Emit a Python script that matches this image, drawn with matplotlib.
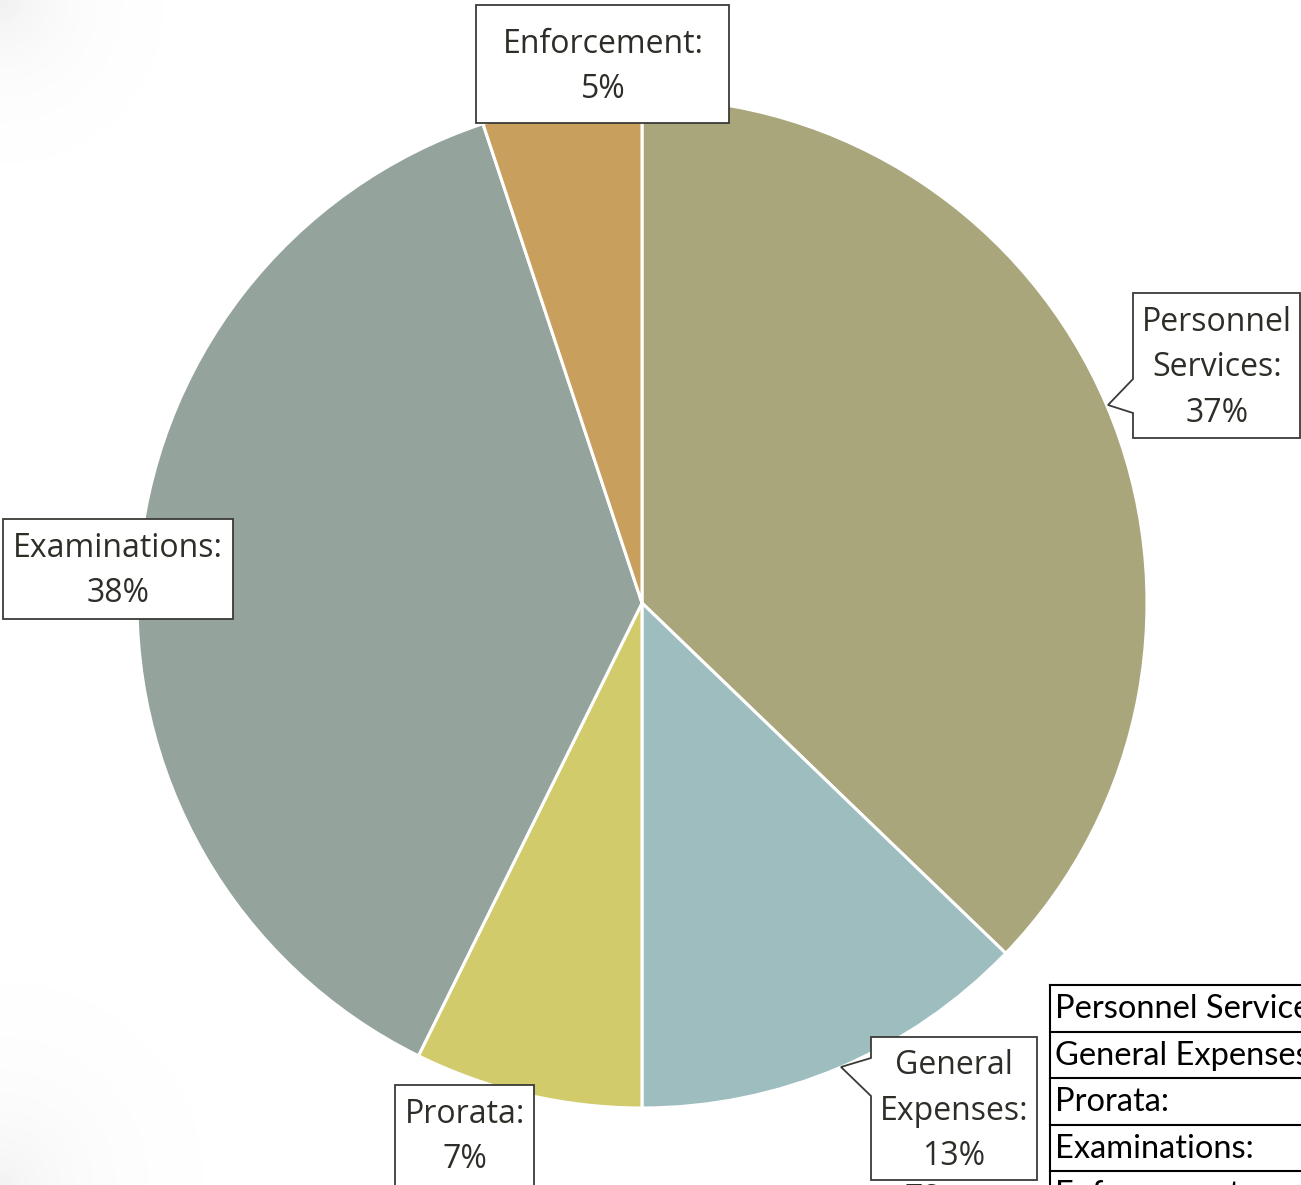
import numpy as np
import matplotlib.pyplot as plt
from matplotlib.patches import Polygon

# budget shares (percent)
categories = ['Personnel Services:', 'General Expenses:', 'Prorata:', 'Examinations:', 'Enforcement:']
label_text = ['Personnel\nServices:', 'General\nExpenses:', 'Prorata:', 'Examinations:', 'Enforcement:']
shares = [37.2, 12.8, 7.3, 37.6, 5.1]
colors = ['#A9A67C', '#9DBDBE', '#D2CB6C', '#94A39C', '#C89F5D']

W, H = 1301, 1185
fig = plt.figure(figsize=(W / 100, H / 100), dpi=100)
ax = fig.add_axes([0, 0, 1, 1])

# faint grey shading in the left corners
yy, xx = np.mgrid[0:H, 0:W]
shade = np.exp(-np.hypot(xx, yy) / 60.0) * 0.06 + np.exp(-np.hypot(xx, H - yy) / 80.0) * 0.05
ax.imshow(1 - shade, cmap='gray', vmin=0, vmax=1, extent=(0, W, H, 0), zorder=0)

# y axis runs downward, so counterclock=True draws clockwise on screen
cx, cy, r = 642, 603, 505
ax.pie(shares, colors=colors, startangle=270, counterclock=True,
       center=(cx, cy), radius=r,
       wedgeprops=dict(edgecolor='white', linewidth=2.2), frame=True)

ax.set_xlim(0, W)
ax.set_ylim(H, 0)
ax.set_aspect('auto')
ax.axis('off')

# callout boxes (outline incl. pointer) and text centres
boxes = [
    [(1133, 293), (1300, 293), (1300, 438), (1133, 438), (1133, 413), (1108, 405), (1133, 379)],
    [(871, 1037), (1037, 1037), (1037, 1180), (871, 1180), (871, 1096), (841, 1067), (871, 1058)],
    [(395, 1085), (534, 1085), (534, 1190), (395, 1190)],
    [(3, 519), (233, 519), (233, 619), (3, 619)],
    [(476, 5), (729, 5), (729, 123), (476, 123)],
]
text_pos = [(1217, 368), (954, 1111), (465, 1137), (118, 571), (603, 67)]

for i in range(len(shares)):
    ax.add_patch(Polygon(boxes[i], closed=True, facecolor='white', edgecolor='#3a3a36',
                         linewidth=1.3, zorder=3))
    txt = f'{label_text[i]}\n{round(shares[i])}%'
    ax.text(text_pos[i][0], text_pos[i][1], txt, ha='center', va='center',
            fontsize=23, family='Open Sans', color='#2e2e29', linespacing=1.5, zorder=4)

# stray value peeking out below the General Expenses callout
ax.text(905, 1200, '78', ha='left', va='center', fontsize=23, family='Open Sans',
        color='#2e2e29', zorder=2)

# clipped table at the bottom right
row_top = 985
row_h = 46.5
ax.plot([1050, 1050], [row_top, H], color='black', lw=1.5, zorder=5)
for i, name in enumerate(categories):
    y0 = row_top + i * row_h
    ax.plot([1050, W], [y0, y0], color='black', lw=1.5, zorder=5)
    ax.text(1055, y0 + row_h / 2 + 1, name, ha='left', va='center',
            fontsize=23.5, family='Lato', color='black', zorder=5, clip_on=True)

fig.savefig('out.png', dpi=100)
